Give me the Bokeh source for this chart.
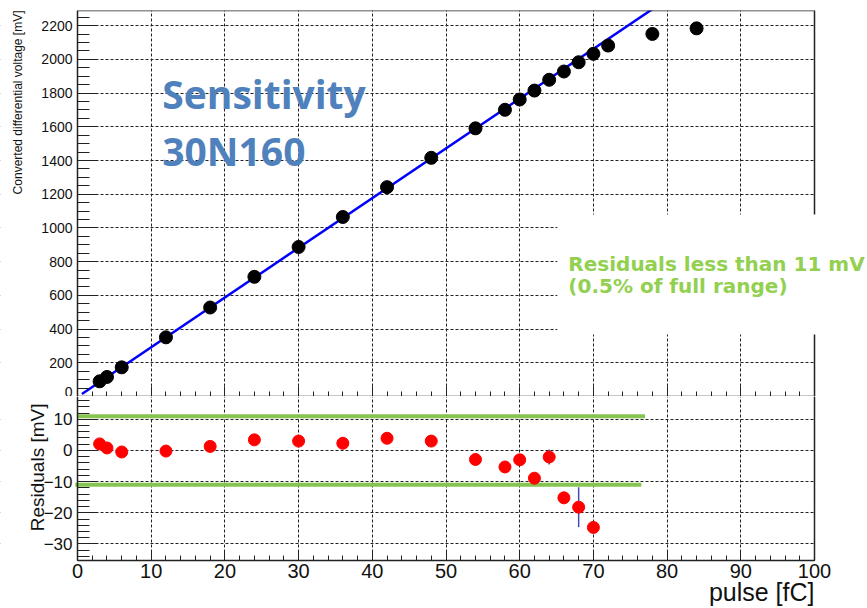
from bokeh.plotting import figure
from bokeh.models import (Range1d, SingleIntervalTicker, FixedTicker, Label, BoxAnnotation,
                          LinearAxis)
from bokeh.layouts import column
from bokeh.embed import file_html
from bokeh.resources import INLINE

# ---- data ----
pulse = [3, 4, 6, 12, 18, 24, 30, 36, 42, 48, 54, 58, 60, 62, 64, 66, 68, 70, 72, 78, 84]
voltage = [90, 116, 173, 351, 528, 710, 887, 1065, 1242, 1416, 1591, 1701, 1762,
           1815, 1879, 1928, 1983, 2033, 2082, 2151, 2184]

fit_intercept = -3.0
fit_slope = 29.5
fit_range = [0.6, 80.0]

res_pulse = [3, 4, 6, 12, 18, 24, 30, 36, 42, 48, 54, 58, 60, 62, 64, 66, 68, 70]
residual = [2.1, 0.8, -0.5, -0.2, 1.3, 3.4, 3.0, 2.3, 3.9, 3.0, -2.9, -5.3, -3.0,
            -8.9, -2.1, -15.2, -18.2, -24.7]
res_err = [0.6, 0.6, 0.6, 0.7, 0.7, 0.8, 0.8, 0.9, 0.9, 1.0, 1.0, 1.1, 1.1, 1.2,
           2.4, 1.5, 6.4, 1.8]

limit = 11
upper_limit_x = [0, 77]
lower_limit_x = [-0.3, 76.5]

x_axis_span = (0, 100)
top_axis_span = (0, 2290)
res_axis_span = (-35.3, 17.3)

title_lines = ["Sensitivity", "30N160"]
note_lines = ["Residuals less than 11 mV", "(0.5% of full range)"]
top_ylabel = "Converted differential voltage [mV]"
res_ylabel = "Residuals [mV]"
xlabel = "pulse [fC]"

# ---- geometry: frames cover the whole canvas width, axes sit at fixed data positions ----
W = 866
LEFT = 77
PX_PER_FC = 7.37
X_START = -LEFT / PX_PER_FC
X_END = (W - LEFT) / PX_PER_FC
GRID_DASH = "3 2"
EDGE = "#222222"
GREEN_TXT = "#92d050"
GREEN_LINE = "#86c451"


def style_common(p):
    p.outline_line_color = None
    p.background_fill_color = "white"
    p.border_fill_color = "white"
    for g in (p.xgrid, p.ygrid):
        g.grid_line_color = EDGE
        g.grid_line_dash = GRID_DASH
        g.grid_line_width = 1
    for ax in (p.xaxis, p.yaxis):
        ax.axis_line_color = EDGE
        ax.axis_line_width = 1.5
        ax.major_tick_line_color = EDGE
        ax.minor_tick_line_color = EDGE
        ax.major_tick_out = 0
        ax.minor_tick_out = 0
        ax.major_label_text_font = "Liberation Sans"
        ax.major_label_text_color = "#111111"


def border_axis(p, loc, bounds, side):
    ax = LinearAxis(fixed_location=loc, bounds=bounds, ticker=FixedTicker(ticks=[], minor_ticks=[]),
                    axis_line_color=EDGE, axis_line_width=1.5,
                    major_tick_in=0, major_tick_out=0, minor_tick_in=0, minor_tick_out=0,
                    major_label_text_color=None, major_label_text_alpha=0)
    p.add_layout(ax, side)


def blank(p, **kw):
    p.add_layout(BoxAnnotation(fill_color="white", fill_alpha=1.0, line_color=None,
                               level="underlay", **kw))


x_range = Range1d(X_START, X_END)

# ---------------- top panel ----------------
top = figure(width=W, height=396, x_range=x_range, y_range=Range1d(*top_axis_span),
             output_backend="svg", toolbar_location=None,
             min_border_left=0, min_border_right=0, min_border_top=10, min_border_bottom=0)
style_common(top)
xt = SingleIntervalTicker(interval=10, num_minor_ticks=5)
yt = SingleIntervalTicker(interval=200, num_minor_ticks=4)
top.xaxis.ticker = xt
top.yaxis.ticker = yt
top.xgrid.ticker = xt
top.ygrid.ticker = yt
top.xaxis.fixed_location = top_axis_span[0]
top.xaxis.bounds = x_axis_span
top.xaxis.major_label_text_color = None
top.xaxis.major_label_text_alpha = 0
top.xaxis.major_tick_in = 10
top.xaxis.minor_tick_in = 5
top.xgrid.bounds = x_axis_span
top.yaxis.fixed_location = x_axis_span[0]
top.yaxis.bounds = top_axis_span
top.ygrid.bounds = top_axis_span
top.yaxis.major_label_text_font_size = "14px"
top.yaxis.major_tick_in = 20
top.yaxis.minor_tick_in = 12
top.yaxis.major_label_standoff = 5

blank(top, left=x_axis_span[1])
blank(top, right=x_axis_span[0])
border_axis(top, x_axis_span[1], top_axis_span, "right")
border_axis(top, top_axis_span[1], x_axis_span, "above")

fit_y = [fit_intercept + fit_slope * x for x in fit_range]
top.line(fit_range, fit_y, line_color="#0000ff", line_width=2.5)
top.scatter(pulse, voltage, size=13, color="black")

# white box of the slide overlay hiding the grid behind the note
top.add_layout(BoxAnnotation(left=65.1, bottom=368, top=1080, fill_color="white",
                             fill_alpha=1.0, line_color=None))

top.add_layout(Label(x=11.5, y=1797, text=title_lines[0], text_font="Open Sans",
                     text_font_style="bold", text_font_size="39px", text_color="#4f81bd",
                     text_baseline="alphabetic"))
top.add_layout(Label(x=11.5, y=1459, text=title_lines[1], text_font="Open Sans",
                     text_font_style="bold", text_font_size="39px", text_color="#4f81bd",
                     text_baseline="alphabetic"))
top.add_layout(Label(x=66.6, y=789, text=note_lines[0], text_font="DejaVu Sans",
                     text_font_style="bold", text_font_size="20px", text_color=GREEN_TXT,
                     text_baseline="alphabetic"))
top.add_layout(Label(x=66.6, y=658, text=note_lines[1], text_font="DejaVu Sans",
                     text_font_style="bold", text_font_size="20px", text_color=GREEN_TXT,
                     text_baseline="alphabetic"))
top.add_layout(Label(x=-8.07, y=top_axis_span[1], text=top_ylabel, angle=1.5707963,
                     text_align="right", text_baseline="middle",
                     text_font="Liberation Sans", text_font_size="12px",
                     text_color="#111111"))

# ---------------- residual panel ----------------
bot_h = 211
res_px = 164 / (res_axis_span[1] - res_axis_span[0])
bot_start = res_axis_span[1] - bot_h / res_px
bot = figure(width=W, height=bot_h, x_range=x_range,
             y_range=Range1d(bot_start, res_axis_span[1]),
             output_backend="svg", toolbar_location=None,
             min_border_left=0, min_border_right=0, min_border_top=0, min_border_bottom=0)
style_common(bot)
xt2 = SingleIntervalTicker(interval=10, num_minor_ticks=5)
yt2 = SingleIntervalTicker(interval=10, num_minor_ticks=5)
bot.xaxis.ticker = xt2
bot.yaxis.ticker = yt2
bot.xgrid.ticker = xt2
bot.ygrid.ticker = yt2
bot.xaxis.fixed_location = res_axis_span[0]
bot.xaxis.bounds = x_axis_span
bot.xgrid.bounds = x_axis_span
bot.yaxis.fixed_location = x_axis_span[0]
bot.yaxis.bounds = res_axis_span
bot.ygrid.bounds = res_axis_span
bot.xaxis.major_label_text_font_size = "20px"
bot.xaxis.major_label_standoff = 3
bot.xaxis.major_tick_in = 10
bot.xaxis.minor_tick_in = 5
bot.yaxis.major_label_text_font_size = "17px"
bot.yaxis.major_label_standoff = 5
bot.yaxis.major_tick_in = 20
bot.yaxis.minor_tick_in = 12

blank(bot, left=x_axis_span[1])
blank(bot, right=x_axis_span[0])
blank(bot, top=res_axis_span[0])
border_axis(bot, x_axis_span[1], res_axis_span, "right")

bot.line(upper_limit_x, [limit, limit], line_color=GREEN_LINE, line_width=4)
bot.line(lower_limit_x, [-limit, -limit], line_color=GREEN_LINE, line_width=4)

bot.segment(x0=res_pulse, y0=[r - e for r, e in zip(residual, res_err)],
            x1=res_pulse, y1=[r + e for r, e in zip(residual, res_err)],
            line_color="#4a4aa8", line_width=1.5)
bot.scatter(res_pulse, residual, size=12, color="#ff0000")

bot.add_layout(Label(x=-5.43, y=15.05, text=res_ylabel, angle=1.5707963,
                     text_align="right", text_baseline="middle",
                     text_font="Liberation Sans", text_font_size="19px",
                     text_color="#111111"))
bot.add_layout(Label(x=x_axis_span[1], y=-45.56, text=xlabel, text_align="right",
                     text_baseline="middle", text_font="Liberation Sans",
                     text_font_size="25px", text_color="#111111"))

layout = column(top, bot, spacing=0)
open("out.html", "w").write(file_html(layout, INLINE))
